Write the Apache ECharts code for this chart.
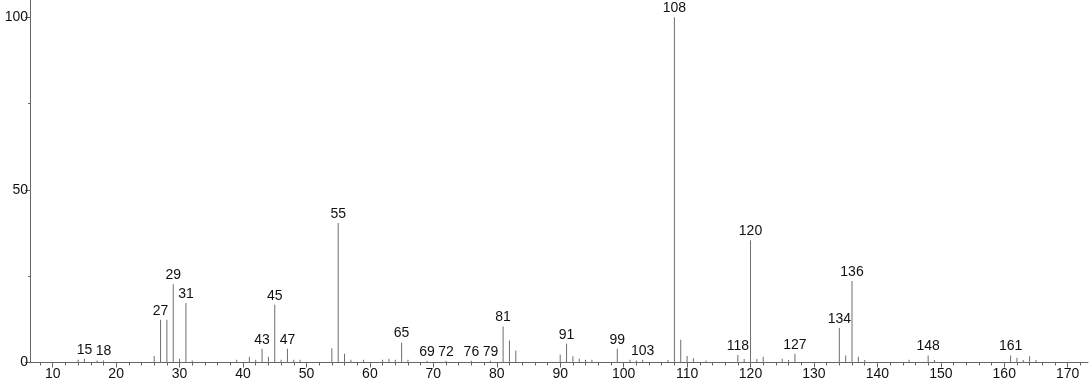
<!DOCTYPE html>
<html>
<head>
<meta charset="utf-8">
<script src="https://cdn.jsdelivr.net/npm/echarts@6/dist/echarts.min.js"></script>
<style>html,body{margin:0;padding:0;background:#fff}#c{width:1091px;height:387px}</style>
</head>
<body>
<div id="c"></div>
<script>
// m/z values and relative intensities
var masses = [14,15,17,18,26,27,28,29,30,31,32,39,41,42,43,44,45,46,47,48,49,54,55,56,57,59,62,63,64,65,66,69,72,76,79,81,82,83,90,91,92,93,94,95,99,101,102,103,107,108,109,110,111,113,118,119,120,121,122,125,126,127,134,135,136,137,138,145,148,149,161,162,163,164,165];
var intensities = [0.8,1.1,0.6,0.6,1.9,12.4,12.4,22.7,1.1,17.2,0.6,0.8,1.7,0.8,4.0,1.7,16.7,0.8,4.0,0.8,0.8,4.1,40.4,2.5,0.8,0.8,0.8,1.1,0.8,5.8,0.8,0.5,0.5,0.5,0.5,10.4,6.4,3.5,2.3,5.4,1.8,1.1,0.8,0.8,4.0,0.8,0.6,0.8,0.7,100,6.6,1.9,1.2,0.6,2.2,1.0,35.4,1.0,1.7,1.1,0.7,2.5,10.0,2.0,23.6,1.7,0.7,0.8,2.0,0.7,2.0,1.4,0.7,1.8,0.7];
var labeledMasses = [15,18,27,29,31,43,45,47,55,65,69,72,76,79,81,91,99,103,108,118,120,127,134,136,148,161];
var xMajorTicks = [10,20,30,40,50,60,70,80,90,100,110,120,130,140,150,160,170];
var xMinorTicks = [8,12,14,16,18,22,24,26,28,32,34,36,38,42,44,46,48,52,54,56,58,62,64,66,68,72,74,76,78,82,84,86,88,92,94,96,98,102,104,106,108,112,114,116,118,122,124,126,128,132,134,136,138,142,144,146,148,152,154,156,158,162,164,166,168,172];
var yMajorTicks = [0,50,100];
var yMinorTicks = [25,75];

var FONT = '"Liberation Sans", Arial, sans-serif';
var data = masses.map(function (m, i) {
  var show = labeledMasses.indexOf(m) >= 0;
  return { value: [m, intensities[i]], label: { show: show } };
});

var chart = echarts.init(document.getElementById('c'), null, { renderer: 'canvas' });
var axisColor = '#666';
chart.setOption({
  animation: false,
  grid: { left: 30, right: 3, top: 0, bottom: 24.5 },
  xAxis: [{
    type: 'value', min: 6.42, max: 173.2,
    axisLine: { lineStyle: { color: axisColor, width: 1 } },
    axisTick: { show: true, length: 5, customValues: xMajorTicks, lineStyle: { color: axisColor } },
    axisLabel: { customValues: xMajorTicks, color: '#111', fontSize: 14, fontFamily: FONT, margin: 5 },
    splitLine: { show: false }
  }, {
    type: 'value', min: 6.42, max: 173.2, position: 'bottom',
    axisLine: { show: false },
    axisTick: { show: true, length: 3, customValues: xMinorTicks, lineStyle: { color: axisColor } },
    axisLabel: { show: false },
    splitLine: { show: false }
  }],
  yAxis: [{
    type: 'value', min: 0, max: 105,
    axisLine: { show: true, lineStyle: { color: axisColor, width: 1 } },
    axisTick: { show: true, length: 5, customValues: yMajorTicks, lineStyle: { color: axisColor } },
    axisLabel: { customValues: yMajorTicks, color: '#111', fontSize: 14, fontFamily: FONT, margin: 2 },
    splitLine: { show: false }
  }, {
    type: 'value', min: 0, max: 105, position: 'left',
    axisLine: { show: false },
    axisTick: { show: true, length: 2, customValues: yMinorTicks, lineStyle: { color: axisColor } },
    axisLabel: { show: false },
    splitLine: { show: false }
  }],
  series: [{
    type: 'bar',
    xAxisIndex: 0, yAxisIndex: 0,
    barWidth: 1,
    itemStyle: { color: '#6e6e6e' },
    label: {
      show: false, position: 'top', distance: 2,
      color: '#111', fontSize: 14, fontFamily: FONT,
      formatter: function (p) { return String(p.value[0]); }
    },
    data: data
  }]
});
</script>
</body>
</html>
